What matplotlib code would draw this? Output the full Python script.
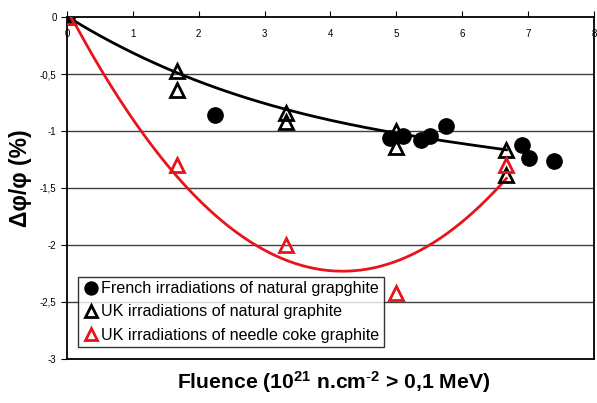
import numpy as np
import matplotlib
matplotlib.use('Agg')
import matplotlib.pyplot as plt

plt.rcParams['font.family'] = ['Liberation Sans', 'DejaVu Sans']
plt.rcParams['mathtext.fontset'] = 'custom'
plt.rcParams['mathtext.bf'] = 'Liberation Sans:bold'
plt.rcParams['mathtext.rm'] = 'Liberation Sans'
plt.rcParams['mathtext.default'] = 'bf'

# French irradiations (filled circles)
fr_x = [0, 2.25, 4.91, 5.10, 5.37, 5.51, 5.75, 6.91, 7.01, 7.39]
fr_y = [0, -0.86, -1.06, -1.04, -1.08, -1.04, -0.96, -1.12, -1.24, -1.26]

# UK natural graphite (black open triangles)
uk_x = [0, 1.67, 1.67, 3.33, 3.33, 5.0, 5.0, 6.67, 6.67]
uk_y = [0, -0.47, -0.64, -0.84, -0.92, -1.00, -1.14, -1.17, -1.39]

# UK needle coke graphite (red open triangles)
nc_x = [0, 1.67, 3.33, 5.0, 6.67]
nc_y = [0, -1.30, -2.00, -2.42, -1.30]

red = '#e8141c'

fig = plt.figure(figsize=(5.97, 4.03), dpi=100)
ax = fig.add_axes([0.1122, 0.1092, 0.8828, 0.8486])

# gridlines
for g in [-0.5, -1, -1.5, -2, -2.5]:
    ax.axhline(g, color='#404040', lw=1, zorder=0)

# trend lines (polynomial fits of the data)
xs = np.linspace(0, 6.67, 200)
up = [0, 1, 3, 5, 7]  # origin + upper UK points
pb = np.polyfit([uk_x[i] for i in up], [uk_y[i] for i in up], 3)
ax.plot(xs, np.polyval(pb, xs), color='black', lw=2, zorder=2)
pr = np.polyfit(nc_x, nc_y, 2)
ax.plot(xs, np.polyval(pr, xs), color=red, lw=2, zorder=2)

ax.plot(fr_x, fr_y, 'o', color='black', ms=11, zorder=3,
        label='French irradiations of natural grapghite')
ax.plot(uk_x, uk_y, '^', mfc='none', mec='black', mew=2, ms=10, zorder=4,
        label='UK irradiations of natural graphite')
ax.plot(nc_x, nc_y, '^', mfc='none', mec=red, mew=2, ms=10, zorder=5,
        label='UK irradiations of needle coke graphite')

ax.set_xlim(0, 8)
ax.set_ylim(-3, 0)
ax.set_xticks(range(0, 9))
ax.set_yticks([0, -0.5, -1, -1.5, -2, -2.5, -3])
ax.set_yticklabels(['0', '-0,5', '-1', '-1,5', '-2', '-2,5', '-3'])

ax.xaxis.tick_top()
ax.tick_params(axis='x', direction='out', length=4, pad=-20, labelsize=7)
ax.tick_params(axis='y', direction='out', length=4, labelsize=7)
for s in ['top', 'left', 'bottom', 'right']:
    ax.spines[s].set_color('black')
    ax.spines[s].set_linewidth(1.3)

ax.set_ylabel('Δφ/φ (%)', fontsize=16.5, fontweight='bold')
ax.yaxis.set_label_coords(-0.066, 0.53)
fig.text(0.558, 0.053, 'Fluence (10$^{21}$ n.cm$^{\\text{-}2}$ > 0,1 MeV)',
         ha='center', va='center', fontsize=15.2, fontweight='bold')

leg = ax.legend(loc='lower left', bbox_to_anchor=(0.021, 0.034), fontsize=11.6,
                frameon=True, fancybox=False, edgecolor='black',
                handletextpad=0.1, handlelength=1.0, borderpad=0.3,
                labelspacing=0.5, markerscale=0.85, borderaxespad=0)
leg.get_frame().set_linewidth(1)

fig.savefig('out.png', dpi=100)
